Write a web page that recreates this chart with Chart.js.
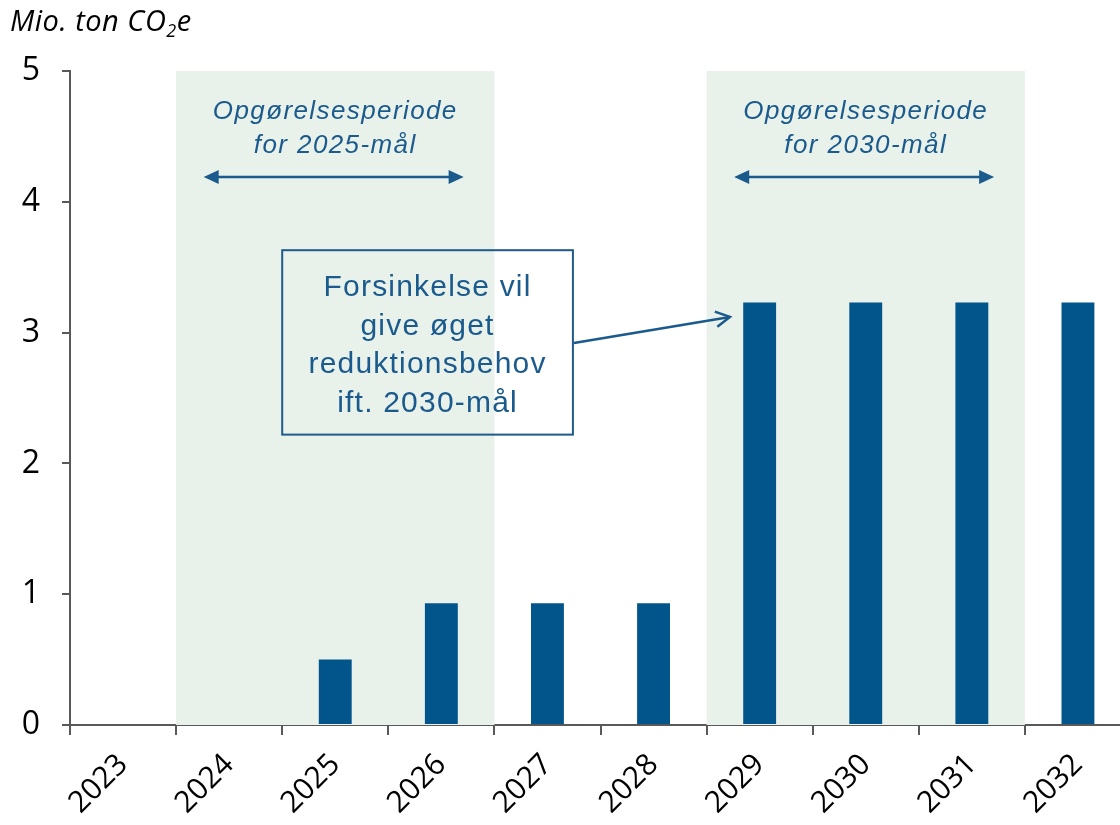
<!DOCTYPE html>
<html>
<head>
<meta charset="utf-8">
<script src="https://cdn.jsdelivr.net/npm/chart.js@4"></script>
<style>
  body { margin: 0; background: #fff; overflow: hidden; }
  #wrap { width: 1120px; height: 825px; overflow: hidden; }
  #box { width: 1140px; height: 825px; }
</style>
</head>
<body>
<div id="wrap"><div id="box"><canvas id="chart"></canvas></div></div>
<script>
var years = ["2023", "2024", "2025", "2026", "2027", "2028", "2029", "2030", "2031", "2032"];
var extraReduction = [0, 0, 0.5, 0.93, 0.93, 0.93, 3.23, 3.23, 3.23, 3.23];
var yMin = 0, yMax = 5;

// periods in category-index units (boundaries between years)
var periodFrom = [0.5, 5.5];
var periodTo = [3.5, 8.5];
var periodText = [["Opgørelsesperiode", "for 2025-mål"], ["Opgørelsesperiode", "for 2030-mål"]];

var noteLines = ["Forsinkelse vil", "give øget", "reduktionsbehov", "ift. 2030-mål"];

var barBlue = "#02558b";
var textBlue = "#1b5a8c";
var shade = "#e8f1ea";
var axisGrey = "#595959";

function arrowHead(ctx, x, y, dir) {
  ctx.beginPath();
  ctx.moveTo(x, y);
  ctx.lineTo(x - dir * 15, y - 7);
  ctx.lineTo(x - dir * 15, y + 7);
  ctx.closePath();
  ctx.fill();
}

var overlay = {
  id: "overlay",
  beforeDatasetsDraw: function (chart) {
    var ctx = chart.ctx, x = chart.scales.x, area = chart.chartArea;
    ctx.save();
    ctx.fillStyle = shade;
    for (var i = 0; i < periodFrom.length; i++) {
      var l = x.getPixelForValue(periodFrom[i]);
      var r = x.getPixelForValue(periodTo[i]);
      ctx.fillRect(l, area.top, r - l, area.bottom - area.top);
    }
    ctx.restore();
  },
  afterDatasetsDraw: function (chart) {
    var ctx = chart.ctx, x = chart.scales.x, y = chart.scales.y;
    ctx.save();
    // period labels + double arrows
    ctx.fillStyle = textBlue;
    ctx.strokeStyle = textBlue;
    ctx.textAlign = "center";
    ctx.textBaseline = "middle";
    ctx.font = "italic 26px 'Liberation Sans', Arial, sans-serif";
    ctx.letterSpacing = "1.4px";
    for (var i = 0; i < periodFrom.length; i++) {
      var cx = x.getPixelForValue((periodFrom[i] + periodTo[i]) / 2);
      ctx.fillText(periodText[i][0], cx, y.getPixelForValue(4.69));
      ctx.fillText(periodText[i][1], cx, y.getPixelForValue(4.43));
      var ay = y.getPixelForValue(4.19);
      var a1 = x.getPixelForValue(periodFrom[i] + 0.26);
      var a2 = x.getPixelForValue(periodTo[i] - 0.29);
      ctx.lineWidth = 2.5;
      ctx.beginPath();
      ctx.moveTo(a1 + 10, ay);
      ctx.lineTo(a2 - 10, ay);
      ctx.stroke();
      arrowHead(ctx, a1, ay, -1);
      arrowHead(ctx, a2, ay, 1);
    }

    // note box
    var bl = x.getPixelForValue(1.5), br = x.getPixelForValue(4.24);
    var bt = y.getPixelForValue(3.63), bb = y.getPixelForValue(2.22);
    ctx.lineWidth = 2;
    ctx.strokeStyle = "#1f5a8a";
    ctx.strokeRect(bl, bt, br - bl, bb - bt);
    ctx.fillStyle = textBlue;
    ctx.font = "30px 'Liberation Sans', Arial, sans-serif";
    ctx.letterSpacing = "1.2px";
    var bcx = (bl + br) / 2;
    for (var j = 0; j < noteLines.length; j++) {
      ctx.fillText(noteLines[j], bcx, bt + 38 + j * 38.5);
    }

    // arrow from box to 2029 bar
    var sx = br + 1, sy = y.getPixelForValue(2.92);
    var ex = x.getPixelForValue(5.72), ey = y.getPixelForValue(3.12);
    ctx.strokeStyle = textBlue;
    ctx.lineWidth = 2.5;
    ctx.beginPath();
    ctx.moveTo(sx, sy);
    ctx.lineTo(ex, ey);
    ctx.stroke();
    var ang = Math.atan2(ey - sy, ex - sx);
    ctx.beginPath();
    ctx.moveTo(ex - 16 * Math.cos(ang - 0.5), ey - 16 * Math.sin(ang - 0.5));
    ctx.lineTo(ex, ey);
    ctx.lineTo(ex - 16 * Math.cos(ang + 0.5), ey - 16 * Math.sin(ang + 0.5));
    ctx.stroke();

    // unit title with subscript
    ctx.letterSpacing = "0.5px";
    ctx.fillStyle = "#000";
    ctx.textAlign = "left";
    ctx.textBaseline = "alphabetic";
    ctx.font = "italic 29px 'Open Sans', sans-serif";
    var tx = 10, ty = 31;
    var t1 = "Mio. ton CO";
    ctx.fillText(t1, tx, ty);
    tx += ctx.measureText(t1).width;
    ctx.font = "italic 18px 'Open Sans', sans-serif";
    ctx.fillText("2", tx, ty + 6);
    tx += ctx.measureText("2").width;
    ctx.font = "italic 29px 'Open Sans', sans-serif";
    ctx.fillText("e", tx, ty);
    ctx.restore();
  }
};

new Chart(document.getElementById("chart"), {
  type: "bar",
  data: {
    labels: years,
    datasets: [
      {
        label: "Øget reduktionsbehov",
        data: extraReduction,
        backgroundColor: barBlue,
        barPercentage: 0.62,
        categoryPercentage: 0.5,
      },
    ],
  },
  options: {
    responsive: true,
    maintainAspectRatio: false,
    animation: false,
    layout: { padding: { top: 71, right: 9, left: 0, bottom: 0 } },
    plugins: {
      legend: { display: false },
      tooltip: { enabled: false },
    },
    scales: {
      x: {
        afterFit: function (scale) { scale.height = 100; },
        grid: { drawOnChartArea: false, tickLength: 10, color: axisGrey, lineWidth: 2 },
        border: { color: axisGrey, width: 2 },
        ticks: {
          minRotation: 45,
          maxRotation: 45,
          padding: 12,
          color: "#000",
          font: { family: "'Open Sans', sans-serif", size: 30 },
        },
      },
      y: {
        min: yMin,
        max: yMax,
        afterFit: function (scale) { scale.width = 70; },
        grid: { drawOnChartArea: false, tickLength: 8, color: axisGrey, lineWidth: 2 },
        border: { color: axisGrey, width: 2 },
        ticks: {
          stepSize: 1,
          padding: 22,
          color: "#000",
          font: { family: "'Open Sans', sans-serif", size: 32 },
        },
      },
    },
  },
  plugins: [overlay],
});
</script>
</body>
</html>
